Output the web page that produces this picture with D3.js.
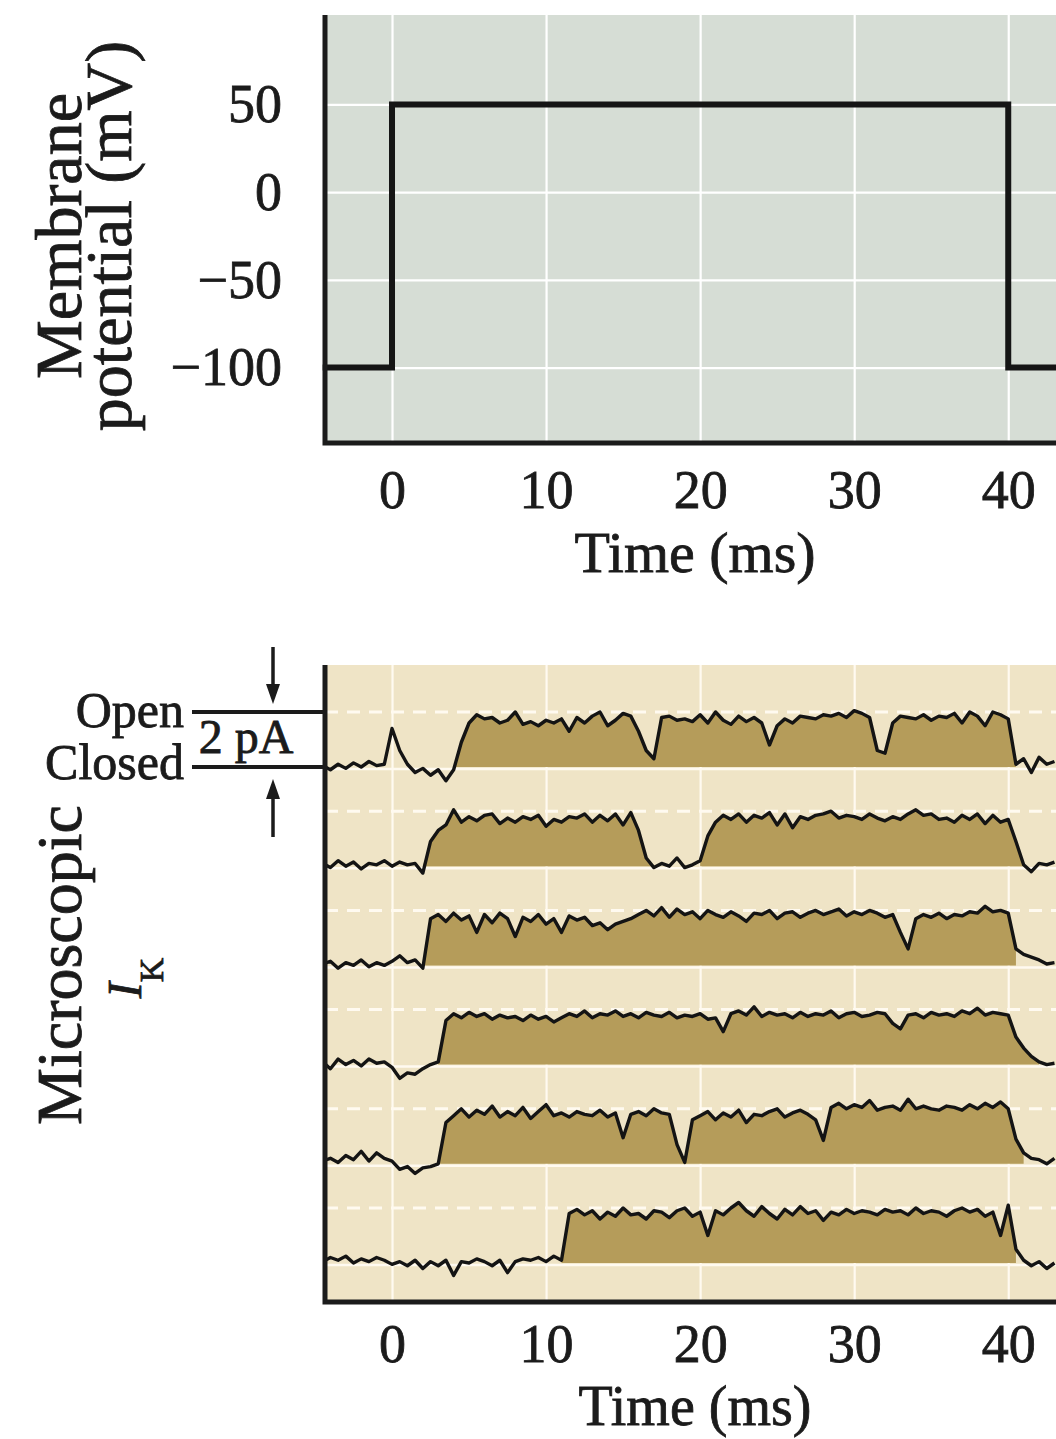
<!DOCTYPE html>
<html>
<head>
<meta charset="utf-8">
<script src="https://cdnjs.cloudflare.com/ajax/libs/d3/7.8.5/d3.min.js"></script>
<style>
body { margin: 0; background: #fff; }
svg text { font-family: "Liberation Serif", "DejaVu Serif", serif; fill: #1b1b1b; stroke: #1b1b1b; stroke-width: 0.8px; }
</style>
</head>
<body>
<div id="chart"></div>
<script>
// sample grid of the current records (ms), 0.5 ms apart
var times = d3.range(-4.5, 43.01, 0.5);
var tickTimes = [0, 10, 20, 30, 40];
var voltTicks = [50, 0, -50, -100];

// voltage clamp step (mV)
var stepTimes = [-4.5, 0, 40, 43.1];
var stepVolts = [-100, 50, -100, -100];

// single channel currents (pA), one value per sample of times
var trace1 = [0.05, -0.1, 0.1, -0.05, 0.15, 0.0, 0.2, 0.05, 0.1, 1.4,
    0.6, 0.1, -0.2, -0.05, -0.3, -0.1, -0.5, -0.1, 0.9, 1.6,
    1.9, 1.75, 1.8, 1.6, 1.7, 2.0, 1.55, 1.65, 1.5, 1.7,
    1.6, 1.75, 1.3, 1.8, 1.6, 1.85, 2.0, 1.5, 1.7, 1.95,
    1.85, 1.3, 0.6, 0.3, 1.8, 1.85, 1.7, 1.75, 1.65, 1.9,
    1.6, 2.0, 1.7, 1.55, 1.85, 1.65, 1.8, 1.6, 0.8, 1.5,
    1.75, 1.6, 1.85, 1.8, 1.75, 1.9, 1.85, 1.95, 1.8, 2.05,
    1.95, 1.8, 0.6, 0.5, 1.6, 1.85, 1.8, 1.75, 1.9, 1.7,
    1.85, 1.8, 1.95, 1.6, 2.0, 1.85, 1.5, 2.0, 1.9, 1.75,
    0.1, 0.3, -0.2, 0.35, 0.1, 0.2];
var trace2 = [0.1, -0.05, 0.2, 0.0, 0.15, -0.1, 0.1, 0.05, 0.2, 0.0,
    0.15, 0.05, 0.1, -0.25, 0.9, 1.3, 1.5, 2.05, 1.6, 1.8,
    1.65, 1.85, 1.9, 1.55, 1.75, 1.6, 1.8, 1.7, 1.85, 1.45,
    1.7, 1.6, 1.8, 1.75, 1.9, 1.6, 1.85, 1.65, 1.9, 1.5,
    1.95, 1.3, 0.3, -0.05, 0.1, 0.0, 0.3, -0.05, 0.05, 0.2,
    1.1, 1.6, 1.85, 1.7, 1.9, 1.6, 1.85, 1.75, 1.95, 1.5,
    1.9, 1.4, 1.8, 1.7, 1.85, 1.9, 2.0, 1.75, 1.85, 1.8,
    1.7, 1.9, 1.75, 1.65, 1.8, 1.7, 1.9, 2.05, 1.85, 1.9,
    1.7, 1.75, 1.6, 1.85, 1.7, 1.9, 1.55, 1.85, 1.6, 1.7,
    0.9, 0.05, -0.2, 0.1, 0.05, 0.15];
var trace3 = [0.05, 0.15, -0.1, 0.1, 0.0, 0.2, -0.05, 0.1, 0.0, 0.15,
    0.35, 0.1, 0.2, -0.1, 1.7, 1.85, 1.6, 1.9, 1.65, 1.8,
    1.2, 1.85, 1.55, 1.9, 1.7, 1.05, 1.75, 1.6, 1.85, 1.5,
    1.7, 1.2, 1.8, 1.65, 1.75, 1.45, 1.55, 1.3, 1.5, 1.6,
    1.7, 1.85, 2.0, 1.8, 2.1, 1.75, 2.05, 1.85, 1.95, 1.7,
    2.0, 1.85, 1.75, 1.95, 1.8, 1.6, 1.9, 1.85, 2.0, 1.7,
    1.9, 1.95, 1.75, 1.9, 2.0, 1.85, 1.95, 2.05, 1.8, 1.95,
    1.85, 2.0, 1.9, 1.75, 1.85, 1.2, 0.6, 1.7, 1.85, 1.75,
    1.9, 1.7, 1.85, 1.8, 1.95, 1.9, 2.15, 1.95, 2.0, 1.9,
    0.6, 0.4, 0.3, 0.2, 0.05, 0.1];
var trace4 = [0.1, -0.15, 0.2, 0.0, 0.15, -0.05, 0.2, 0.05, 0.1, -0.1,
    -0.5, -0.3, -0.35, -0.15, 0.0, 0.1, 1.6, 1.85, 1.7, 1.9,
    1.75, 1.85, 1.65, 1.8, 1.7, 1.75, 1.6, 1.8, 1.65, 1.75,
    1.55, 1.7, 1.85, 1.75, 1.95, 1.7, 1.85, 1.8, 1.95, 1.75,
    1.85, 1.7, 1.9, 1.8, 1.75, 1.9, 1.7, 1.8, 1.75, 1.85,
    1.65, 1.7, 1.2, 1.85, 1.95, 1.8, 2.1, 1.75, 1.9, 1.8,
    1.85, 1.7, 1.9, 1.75, 1.85, 1.8, 1.95, 1.7, 1.85, 1.9,
    1.75, 1.8, 1.9, 1.85, 1.5, 1.3, 1.8, 1.85, 1.7, 1.9,
    1.8, 1.85, 1.75, 1.95, 1.85, 2.05, 1.8, 1.9, 1.85, 1.8,
    1.0, 0.6, 0.3, 0.1, 0.0, 0.05];
var trace5 = [0.1, 0.2, 0.05, 0.3, 0.15, 0.45, 0.1, 0.4, 0.2, 0.1,
    -0.2, -0.1, -0.35, -0.15, -0.1, 0.0, 1.5, 1.75, 2.0, 1.7,
    1.95, 1.8, 2.1, 1.7, 1.9, 1.75, 2.05, 1.65, 1.9, 2.15,
    1.75, 1.85, 1.7, 1.9, 1.8, 1.75, 1.95, 1.7, 1.85, 0.95,
    1.8, 1.9, 1.75, 2.0, 1.85, 1.8, 0.7, 0.05, 1.6, 1.75,
    1.9, 1.6, 1.85, 1.7, 1.95, 1.5, 1.8, 1.75, 1.9, 2.0,
    1.7, 1.85, 1.95, 1.8, 1.6, 0.85, 2.05, 2.2, 2.0, 2.15,
    2.05, 2.3, 1.95, 2.05, 2.1, 1.95, 2.35, 2.0, 2.1, 2.0,
    1.95, 2.1, 2.05, 1.95, 2.15, 2.0, 2.2, 2.05, 2.25, 2.0,
    0.9, 0.4, 0.2, 0.15, 0.0, 0.2];
var trace6 = [0.05, 0.2, 0.1, 0.25, 0.0, 0.15, 0.05, 0.2, 0.1, -0.05,
    0.05, -0.1, 0.1, -0.2, 0.05, -0.1, 0.1, -0.45, 0.05, 0.0,
    0.15, 0.05, -0.1, 0.1, -0.35, 0.05, 0.15, 0.1, 0.2, 0.05,
    0.25, 0.1, 1.8, 1.95, 1.75, 1.9, 1.6, 1.85, 1.7, 2.0,
    1.75, 1.8, 1.6, 1.9, 1.85, 1.65, 1.9, 2.0, 1.7, 1.85,
    1.0, 1.9, 1.75, 2.0, 2.2, 1.9, 1.7, 2.05, 1.8, 1.6,
    1.95, 1.75, 2.05, 1.8, 1.9, 1.55, 1.85, 1.75, 1.95, 1.8,
    1.9, 1.85, 1.75, 1.95, 1.85, 1.9, 1.75, 2.0, 1.8, 1.9,
    1.85, 1.7, 1.9, 2.0, 1.85, 1.95, 1.7, 1.85, 1.0, 2.1,
    0.5, 0.1, -0.1, 0.05, -0.2, 0.0];
var traces = [trace1, trace2, trace3, trace4, trace5, trace6];

// stretches of each record where the channel is open (shaded)
var openSpans = [
    [[4, 40.5]],
    [[2, 17], [20, 41]],
    [[2, 40.5]],
    [[3, 42]],
    [[3, 41]],
    [[11, 40.5]]
];

var width = 1056,
    height = 1439,
    left = 325,
    right = 1056,
    top1 = 15, bottom1 = 443,
    top2 = 665, bottom2 = 1302;

var svg = d3.select("#chart")
    .append("svg")
    .attr("width", width)
    .attr("height", height);

var x = d3.scaleLinear().domain([-4.35, 43.1]).range([left, right]);
var yV = d3.scaleLinear().domain([-143, 101]).range([bottom1, top1]);
var rowY = d3.scaleLinear().domain([0, 5]).range([767, 1263]);
var yI = d3.scaleLinear().domain([0, 2]).range([0, -55]);

function styleAxisText(g, size) {
    g.select(".domain").remove();
    g.selectAll("text")
        .attr("fill", "#1b1b1b")
        .style("font-family", '"Liberation Serif", serif')
        .style("font-size", size + "px");
}

// ---------- top panel: membrane potential ----------
var vPanel = svg.append("g").attr("class", "voltage");

vPanel.append("rect")
    .attr("x", left).attr("y", top1)
    .attr("width", right - left).attr("height", bottom1 - top1)
    .attr("fill", "#d6ddd5");

vPanel.append("g")
    .attr("transform", "translate(0," + bottom1 + ")")
    .call(d3.axisBottom(x).tickValues(tickTimes).tickSize(-(bottom1 - top1)).tickFormat(""))
    .call(function(g) { g.select(".domain").remove(); })
    .selectAll("line").attr("stroke", "#fff").attr("stroke-width", 2.2);

vPanel.append("g")
    .attr("transform", "translate(" + left + ",0)")
    .call(d3.axisLeft(yV).tickValues(voltTicks).tickSize(-(right - left)).tickFormat(""))
    .call(function(g) { g.select(".domain").remove(); })
    .selectAll("line").attr("stroke", "#fff").attr("stroke-width", 2.2);

var step = d3.line()
    .x(function(d, i) { return x(stepTimes[i]); })
    .y(function(d) { return yV(d); })
    .curve(d3.curveStepAfter);

vPanel.append("path")
    .datum(stepVolts)
    .attr("d", step)
    .attr("fill", "none")
    .attr("stroke", "#151515")
    .attr("stroke-width", 6);

vPanel.append("path")
    .attr("d", "M" + left + "," + top1 + "V" + bottom1 + "H" + right)
    .attr("fill", "none")
    .attr("stroke", "#1b1b1b")
    .attr("stroke-width", 5);

vPanel.append("g")
    .attr("transform", "translate(0," + bottom1 + ")")
    .call(d3.axisBottom(x).tickValues(tickTimes).tickSize(0).tickPadding(27))
    .call(styleAxisText, 54);

vPanel.append("g")
    .attr("transform", "translate(" + left + ",0)")
    .call(d3.axisLeft(yV).tickValues(voltTicks).tickSize(0).tickPadding(43)
        .tickFormat(function(d) { return d < 0 ? "\u2212" + (-d) : d; }))
    .call(styleAxisText, 54);

vPanel.append("text")
    .attr("x", 695).attr("y", 572)
    .attr("text-anchor", "middle")
    .style("font-size", "58px")
    .text("Time (ms)");

vPanel.append("text")
    .attr("transform", "translate(81,236) rotate(-90)")
    .attr("text-anchor", "middle")
    .style("font-size", "66px")
    .text("Membrane");

vPanel.append("text")
    .attr("transform", "translate(131,236) rotate(-90)")
    .attr("text-anchor", "middle")
    .style("font-size", "66px")
    .text("potential (mV)");

// ---------- bottom panel: single channel K+ currents ----------
var iPanel = svg.append("g").attr("class", "current");

iPanel.append("clipPath").attr("id", "clip2")
    .append("rect")
    .attr("x", left + 2).attr("y", top2)
    .attr("width", right - left).attr("height", bottom2 - top2);

iPanel.append("rect")
    .attr("x", left).attr("y", top2)
    .attr("width", right - left).attr("height", bottom2 - top2)
    .attr("fill", "#efe4c6");

iPanel.append("g")
    .attr("transform", "translate(0," + bottom2 + ")")
    .call(d3.axisBottom(x).tickValues(tickTimes).tickSize(-(bottom2 - top2)).tickFormat(""))
    .call(function(g) { g.select(".domain").remove(); })
    .selectAll("line").attr("stroke", "#fffaf0").attr("stroke-width", 2.2);

var rows = iPanel.append("g").attr("clip-path", "url(#clip2)")
    .selectAll("g.row")
    .data(traces)
    .enter()
    .append("g")
    .attr("class", "row");

// closed level
rows.append("line")
    .attr("x1", left).attr("x2", right)
    .attr("y1", function(d, i) { return rowY(i) + 2; })
    .attr("y2", function(d, i) { return rowY(i) + 2; })
    .attr("stroke", "#fffaf0")
    .attr("stroke-width", 2.5);

// open level
rows.append("line")
    .attr("x1", left).attr("x2", right)
    .attr("y1", function(d, i) { return rowY(i) + yI(2); })
    .attr("y2", function(d, i) { return rowY(i) + yI(2); })
    .attr("stroke", "#fffaf0")
    .attr("stroke-width", 3)
    .attr("stroke-dasharray", "13,9");

rows.each(function(vals, k) {
    var g = d3.select(this);
    var pts = vals.map(function(v, i) { return { t: times[i], v: v }; });

    var area = d3.area()
        .x(function(d) { return x(d.t); })
        .y0(rowY(k))
        .y1(function(d) { return rowY(k) + yI(Math.max(d.v, 0)); });

    openSpans[k].forEach(function(s) {
        g.append("path")
            .datum(pts.filter(function(d) { return d.t >= s[0] && d.t <= s[1]; }))
            .attr("d", area)
            .attr("fill", "#b59c5a");
    });

    var line = d3.line()
        .x(function(d) { return x(d.t); })
        .y(function(d) { return rowY(k) + yI(d.v); });

    g.append("path")
        .datum(pts)
        .attr("d", line)
        .attr("fill", "none")
        .attr("stroke", "#141414")
        .attr("stroke-width", 3.4)
        .attr("stroke-linejoin", "round");
});

iPanel.append("path")
    .attr("d", "M" + left + "," + top2 + "V" + bottom2 + "H" + right)
    .attr("fill", "none")
    .attr("stroke", "#1b1b1b")
    .attr("stroke-width", 5);

iPanel.append("g")
    .attr("transform", "translate(0," + bottom2 + ")")
    .call(d3.axisBottom(x).tickValues(tickTimes).tickSize(0).tickPadding(22))
    .call(styleAxisText, 54);

iPanel.append("text")
    .attr("x", 695).attr("y", 1425)
    .attr("text-anchor", "middle")
    .style("font-size", "56px")
    .text("Time (ms)");

// open / closed scale bar
var openY = rowY(0) + yI(2),
    closedY = rowY(0);

iPanel.selectAll("line.lvl")
    .data([openY, closedY])
    .enter()
    .append("line")
    .attr("class", "lvl")
    .attr("x1", 192).attr("x2", left)
    .attr("y1", function(d) { return d; })
    .attr("y2", function(d) { return d; })
    .attr("stroke", "#1b1b1b")
    .attr("stroke-width", 4);

iPanel.append("text")
    .attr("x", 184).attr("y", 727)
    .attr("text-anchor", "end")
    .style("font-size", "50px")
    .text("Open");

iPanel.append("text")
    .attr("x", 184).attr("y", 779)
    .attr("text-anchor", "end")
    .style("font-size", "50px")
    .text("Closed");

iPanel.append("text")
    .attr("x", 246).attr("y", 753)
    .attr("text-anchor", "middle")
    .style("font-size", "48px")
    .text("2 pA");

function arrow(xc, tip, tail) {
    var dir = tip > tail ? 1 : -1;
    iPanel.append("line")
        .attr("x1", xc).attr("x2", xc)
        .attr("y1", tail).attr("y2", tip - dir * 14)
        .attr("stroke", "#1b1b1b")
        .attr("stroke-width", 3.5);
    iPanel.append("path")
        .attr("d", "M" + xc + "," + tip + "L" + (xc - 7) + "," + (tip - dir * 20) +
            "L" + (xc + 7) + "," + (tip - dir * 20) + "Z")
        .attr("fill", "#1b1b1b");
}
arrow(273, openY - 8, 647);
arrow(273, closedY + 12, 837);

iPanel.append("text")
    .attr("transform", "translate(81,965) rotate(-90)")
    .attr("text-anchor", "middle")
    .style("font-size", "64px")
    .text("Microscopic");

var ik = iPanel.append("text")
    .attr("transform", "translate(141,978) rotate(-90)")
    .attr("text-anchor", "middle");
ik.append("tspan")
    .style("font-size", "48px")
    .style("font-style", "italic")
    .text("I");
ik.append("tspan")
    .attr("dy", 22)
    .style("font-size", "34px")
    .text("K");
</script>
</body>
</html>
